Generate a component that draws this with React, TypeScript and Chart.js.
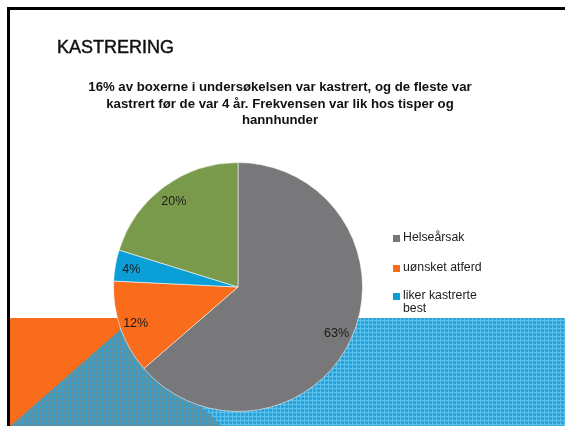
import React, { useEffect, useRef } from "react";
import { Chart, registerables } from "chart.js";

Chart.register(...registerables);

const slideTitle = "KASTRERING";
const chartTitleLines = [
  "16% av boxerne i undersøkelsen var kastrert, og de fleste var",
  "kastrert før de var 4 år. Frekvensen var lik hos tisper og",
  "hannhunder",
];
const categories = ["Helseårsak", "uønsket atferd", "liker kastrerte best", "annet"];
const values = [63, 12, 4, 20];
const sliceColors = ["#78787b", "#f86c1c", "#0b9fd8", "#7a9a4b"];
const legendVisible = [true, true, true, false];

const FONT = '"Liberation Sans", Arial, Helvetica, sans-serif';

const pctLabels = {
  id: "pctLabels",
  afterDatasetsDraw(chart: any) {
    const meta = chart.getDatasetMeta(0);
    const ctx = chart.ctx;
    ctx.save();
    ctx.font = `12.5px ${FONT}`;
    ctx.fillStyle = "#1a1a1a";
    ctx.textAlign = "center";
    ctx.textBaseline = "middle";
    meta.data.forEach((arc: any, i: number) => {
      const p = arc.getProps(["x", "y", "startAngle", "endAngle", "outerRadius"], true);
      const mid = (p.startAngle + p.endAngle) / 2;
      const r = p.outerRadius * 0.87;
      ctx.fillText(values[i] + "%", p.x + Math.cos(mid) * r, p.y + Math.sin(mid) * r + 1.5);
    });
    ctx.restore();
  },
};

export default function App() {
  const canvasRef = useRef<HTMLCanvasElement | null>(null);

  useEffect(() => {
    if (!canvasRef.current) return;
    const chart = new Chart(canvasRef.current, {
      type: "pie",
      data: {
        labels: categories,
        datasets: [
          {
            data: values,
            backgroundColor: sliceColors,
            borderColor: "rgba(255,255,255,0.55)",
            borderWidth: 1,
          },
        ],
      },
      options: {
        responsive: false,
        animation: false,
        layout: { padding: { left: 113, right: 202, top: 162, bottom: 14 } },
        plugins: {
          legend: { display: false },
          tooltip: { enabled: false },
          title: { display: false },
        },
      },
      plugins: [pctLabels],
    });
    return () => chart.destroy();
  }, []);

  return (
    <div
      style={{
        position: "fixed",
        left: 0,
        top: 0,
        width: 565,
        height: 426,
        background: "#ffffff",
        overflow: "hidden",
        fontFamily: FONT,
      }}
    >
      <svg width={565} height={426} style={{ position: "absolute", left: 0, top: 0 }}>
        <defs>
          <pattern id="lightBlue" width="4" height="4" patternUnits="userSpaceOnUse">
            <rect width="4" height="4" fill="#27a8e0" />
            <rect width="4" height="1" fill="#5cc0eb" />
            <rect width="1" height="4" fill="#5cc0eb" />
            <rect x="2" y="2" width="1" height="1" fill="#1b93cc" />
          </pattern>
          <pattern id="darkBlue" width="4" height="4" patternUnits="userSpaceOnUse">
            <rect width="4" height="4" fill="#2ea2d3" />
            <rect width="4" height="1" fill="#62909f" />
            <rect width="1" height="4" fill="#62909f" />
          </pattern>
        </defs>
        <rect x={10} y={318} width={120} height={110} fill="#f86c1c" />
        <rect x={120} y={318} width={450} height={110} fill="url(#lightBlue)" />
        <polygon points="120,330 10,426.5 10,430 226,430" fill="url(#darkBlue)" />
      </svg>
      <div
        style={{
          position: "absolute",
          left: 7,
          top: 7,
          width: 600,
          height: 460,
          borderTop: "3px solid #000",
          borderLeft: "3px solid #000",
        }}
      />
      <canvas
        ref={canvasRef}
        width={565}
        height={426}
        style={{ position: "absolute", left: 0, top: 0, width: 565, height: 426 }}
      />
      <div
        style={{
          position: "absolute",
          left: 57,
          top: 37,
          fontSize: 18,
          lineHeight: "20px",
          color: "#111",
          whiteSpace: "nowrap",
          WebkitTextStroke: "0.45px #111",
        }}
      >
        {slideTitle}
      </div>
      <div
        style={{
          position: "absolute",
          left: 40,
          width: 480,
          top: 79,
          fontSize: 13.2,
          lineHeight: "16.5px",
          fontWeight: "bold",
          textAlign: "center",
          color: "#111",
        }}
      >
        {chartTitleLines.map((l, i) => (
          <div key={i}>{l}</div>
        ))}
      </div>
      <div style={{ position: "absolute", left: 393, top: 231 }}>
        {categories.map((c, i) =>
          legendVisible[i] ? (
            <div
              key={i}
              style={{
                display: "flex",
                alignItems: "flex-start",
                height: i === 0 ? 30 : 28,
                fontSize: 12.3,
              }}
            >
              <div
                style={{
                  width: 7,
                  height: 7,
                  background: sliceColors[i],
                  marginTop: 3.5,
                  marginRight: 3,
                  flex: "none",
                }}
              />
              <div style={{ width: 95, lineHeight: "13px", color: "#1a1a1a" }}>{c}</div>
            </div>
          ) : null
        )}
      </div>
    </div>
  );
}
